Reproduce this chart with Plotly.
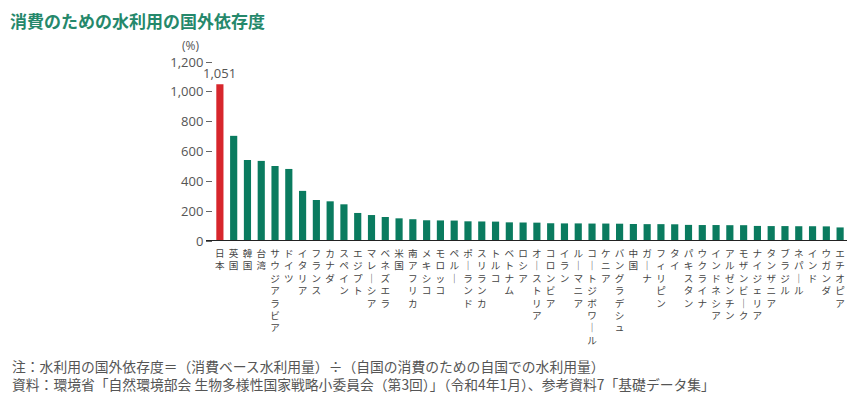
import plotly.graph_objects as go

countries = ["日本", "英国", "韓国", "台湾", "サウジアラビア", "ドイツ", "イタリア", "フランス",
             "カナダ", "スペイン", "エジプト", "マレーシア", "ベネズエラ", "米国", "南アフリカ",
             "メキシコ", "モロッコ", "ペルー", "ポーランド", "スリランカ", "トルコ", "ベトナム",
             "ロシア", "オーストリア", "コロンビア", "イラン", "ルーマニア", "コートジボワール",
             "ケニア", "バングラデシュ", "中国", "ガーナ", "フィリピン", "タイ", "パキスタン",
             "ウクライナ", "インドネシア", "アルゼンチン", "モザンビーク", "ナイジェリア",
             "タンザニア", "ブラジル", "ネパール", "インド", "ウガンダ", "エチオピア"]
values = [1051, 705, 543, 537, 503, 483, 336, 275, 266, 246, 188, 174, 161, 152, 146,
          139, 138, 137, 132, 131, 130, 125, 124, 123, 119, 118, 118, 117, 117, 116,
          114, 113, 113, 112, 108, 107, 107, 106, 106, 101, 100, 100, 99, 99, 98, 91]
y_ticks = [0, 200, 400, 600, 800, 1000, 1200]

title = "消費のための水利用の国外依存度"
note = "注：水利用の国外依存度＝（消費ベース水利用量）÷（自国の消費のための自国での水利用量）"
source = "資料：環境省「自然環境部会 生物多様性国家戦略小委員会（第3回）」（令和4年1月）、参考資料7「基礎データ集」"

FONT = "Noto Sans CJK JP"
NUM_FONT = "Open Sans"
GREEN = "#0a7b5f"
RED = "#d7262c"

# the page body adds an 8px margin, so everything is laid out 8px up/left
L, R, T, B = 205, 27, 54, 170
PW, PH = 866 - L - R, 403 - T - B


def vertical(name):
    # stack characters top to bottom, long vowel mark turned upright
    return "<br>".join(name.replace("ー", "｜"))


colors = [RED if c == "日本" else GREEN for c in countries]

fig = go.Figure()
fig.add_trace(go.Bar(x=countries, y=values, marker_color=colors,
                     marker_line_width=0, showlegend=False))

fig.add_annotation(x=countries[0], y=values[0], text=f"{values[0]:,}", showarrow=False,
                   yanchor="bottom", yshift=0, font=dict(size=13, color="#555", family=NUM_FONT))
fig.add_annotation(text="(%)", xref="paper", yref="paper", x=-23 / PW, y=1 + 17 / PH,
                   xanchor="center", yanchor="middle", showarrow=False,
                   font=dict(size=12, color="#555", family=NUM_FONT))
fig.add_annotation(text=note + "<br>" + source, xref="paper", yref="paper",
                   x=-(L - 2) / PW, y=-133.5 / PH, xanchor="left", yanchor="middle",
                   align="left", showarrow=False, font=dict(size=13.8, color="#555"))

# baseline, drawn a little past the plot's left edge as in the original
fig.add_shape(type="line", xref="paper", yref="y", x0=-7 / PW, x1=1, y0=0, y1=0,
              line=dict(color="#222", width=2))

fig.update_layout(
    width=866, height=403,
    margin=dict(l=L, r=R, t=T, b=B, autoexpand=False),
    paper_bgcolor="white", plot_bgcolor="white",
    font=dict(family=FONT, color="#444"),
    bargap=0.48,
    title=dict(text=f"<b>{title}</b>", x=2 / 866, xanchor="left", y=1 - 14 / 403, yanchor="middle",
               font=dict(size=17, color="#25886b", family=FONT)),
)

fig.update_xaxes(
    range=[-0.5, len(countries) - 0.5], automargin=False,
    tickmode="array", tickvals=countries, ticktext=[vertical(c) for c in countries],
    tickangle=0, ticks="", showline=False, showgrid=False, ticklabelstandoff=5,
    tickfont=dict(size=9.6, color="#444", family=FONT),
)
fig.update_yaxes(
    range=[0, 1200], tickvals=y_ticks, tickformat=",", automargin=False,
    ticks="outside", ticklen=6, tickcolor="#666", tickwidth=1,
    showline=False, showgrid=False, zeroline=False,
    tickfont=dict(size=13, color="#555", family=NUM_FONT),
)

fig.write_html("out.html")
